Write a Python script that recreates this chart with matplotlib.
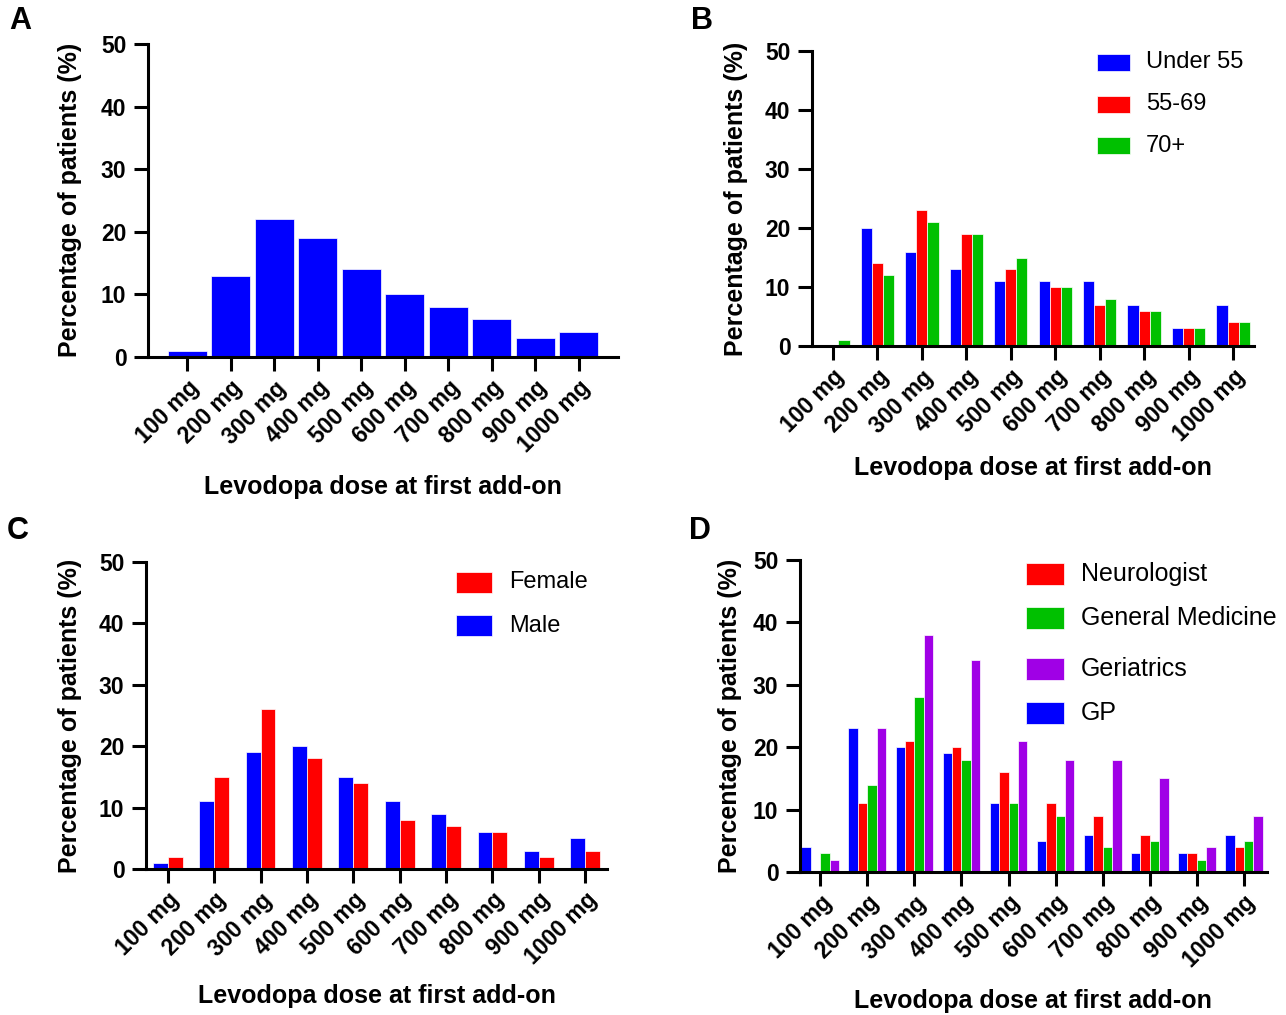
import matplotlib
matplotlib.use("Agg")
import matplotlib.pyplot as plt
from matplotlib.patches import Rectangle
import numpy as np

plt.rcParams["font.family"] = ["Liberation Sans", "DejaVu Sans"]

# ---- data ----
doses = ["100 mg", "200 mg", "300 mg", "400 mg", "500 mg",
         "600 mg", "700 mg", "800 mg", "900 mg", "1000 mg"]

overall = [1, 13, 22, 19, 14, 10, 8, 6, 3, 4]

under_55 = [0, 20, 16, 13, 11, 11, 11, 7, 3, 7]
age_55_69 = [0, 14, 23, 19, 13, 10, 7, 6, 3, 4]
age_70_plus = [1, 12, 21, 19, 15, 10, 8, 6, 3, 4]

male = [1, 11, 19, 20, 15, 11, 9, 6, 3, 5]
female = [2, 15, 26, 18, 14, 8, 7, 6, 2, 3]

gp = [4, 23, 20, 19, 11, 5, 6, 3, 3, 6]
neurologist = [0, 11, 21, 20, 16, 11, 9, 6, 3, 4]
general_medicine = [3, 14, 28, 18, 11, 9, 4, 5, 2, 5]
geriatrics = [2, 23, 38, 34, 21, 18, 18, 15, 4, 9]

BLUE = "#0000FF"
RED = "#FF0000"
GREEN = "#00C000"
PURPLE = "#A000E6"

TICK_SIZE = 16.5
LABEL_SIZE = 18

W, H = 1286, 1015
fig = plt.figure(figsize=(W / 100, H / 100), dpi=100)


def make_axes(left, right, top, bottom):
    """픽셀 좌표로 axes 생성"""
    return fig.add_axes([left / W, 1 - bottom / H, (right - left) / W, (bottom - top) / H])


def style_axes(ax, xlim):
    ax.set_xlim(xlim)
    ax.set_ylim(0, 50)
    ax.set_yticks(range(0, 51, 10))
    ax.set_xticks(np.arange(len(doses)))
    ax.set_xticklabels(doses, rotation=45, ha="right", va="top",
                       rotation_mode="anchor", fontsize=TICK_SIZE, fontweight="bold")
    for lab in ax.get_yticklabels():
        lab.set_fontweight("bold")
        lab.set_fontsize(TICK_SIZE)
    for side in ["top", "right"]:
        ax.spines[side].set_visible(False)
    for side in ["left", "bottom"]:
        ax.spines[side].set_linewidth(2.2)
    ax.tick_params(axis="both", length=10, width=2.2)
    ax.tick_params(axis="x", pad=4)
    ax.tick_params(axis="y", pad=5.5)


def grouped_bars(ax, series, colors, width):
    n = len(series)
    x = np.arange(len(doses))
    for i, (vals, col) in enumerate(zip(series, colors)):
        offset = (i - (n - 1) / 2) * width
        ax.bar(x + offset, vals, width, color=col, edgecolor="white", linewidth=0.5)


def pixel_text(x, y, s, **kw):
    fig.text(x / W, 1 - y / H, s, **kw)


def legend_box(x0, x1, y0, y1, color, label, text_x, size):
    fig.add_artist(Rectangle((x0 / W, 1 - y1 / H), (x1 - x0) / W, (y1 - y0) / H,
                             transform=fig.transFigure, facecolor=color,
                             edgecolor="white", linewidth=0.5))
    pixel_text(text_x, (y0 + y1) / 2, label, ha="left", va="center", fontsize=size)


def axis_labels(xl_pos, yl_pos):
    pixel_text(xl_pos[0], xl_pos[1], "Levodopa dose at first add-on",
               ha="center", va="center", fontsize=LABEL_SIZE, fontweight="bold")
    pixel_text(yl_pos[0], yl_pos[1], "Percentage of patients (%)",
               ha="center", va="center", rotation=90, fontsize=LABEL_SIZE, fontweight="bold")


# ---- A ----
ax_a = make_axes(148, 618, 44, 357)
ax_a.bar(np.arange(len(doses)), overall, 0.9, color=BLUE, edgecolor="white", linewidth=0.5)
style_axes(ax_a, (-0.9, 9.9))
axis_labels((383, 487), (70, 200))

# ---- B ----
ax_b = make_axes(812, 1254, 51, 346)
grouped_bars(ax_b, [under_55, age_55_69, age_70_plus], [BLUE, RED, GREEN], 0.25)
style_axes(ax_b, (-0.47, 9.47))
axis_labels((1033, 468), (736, 199))
legend_box(1097, 1130, 54, 71, BLUE, "Under 55", 1146, 17)
legend_box(1097, 1130, 96, 113, RED, "55-69", 1146, 17)
legend_box(1097, 1130, 137, 154, GREEN, "70+", 1146, 17)

# ---- C ----
ax_c = make_axes(146, 607, 562, 869)
grouped_bars(ax_c, [male, female], [BLUE, RED], 0.32)
style_axes(ax_c, (-0.47, 9.47))
axis_labels((377, 996), (70, 716))
legend_box(456, 492, 572, 593, RED, "Female", 509, 17)
legend_box(456, 492, 615, 636, BLUE, "Male", 509, 17)

# ---- D ----
ax_d = make_axes(800, 1267, 560, 872)
grouped_bars(ax_d, [gp, neurologist, general_medicine, geriatrics],
             [BLUE, RED, GREEN, PURPLE], 0.2)
style_axes(ax_d, (-0.43, 9.49))
axis_labels((1033, 1001), (730, 716))
legend_box(1026, 1064, 563, 585, RED, "Neurologist", 1081, 18)
legend_box(1026, 1064, 607, 629, GREEN, "General Medicine", 1081, 18)
legend_box(1026, 1064, 658, 680, PURPLE, "Geriatrics", 1081, 18)
legend_box(1026, 1064, 702, 724, BLUE, "GP", 1081, 18)

# ---- panel letters ----
for letter, (x, y) in {"A": (20, 21), "B": (702, 21), "C": (18, 531), "D": (700, 531)}.items():
    pixel_text(x, y, letter, ha="center", va="center", fontsize=22, fontweight="bold")

fig.savefig("out.png", dpi=100)
